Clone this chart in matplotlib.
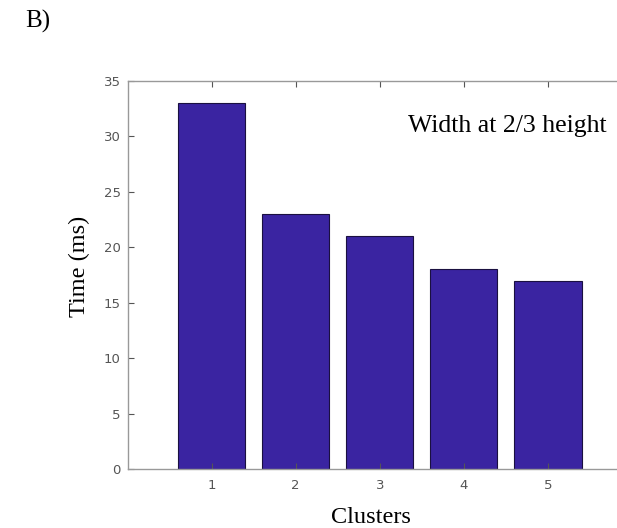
import numpy as np
import matplotlib.pyplot as plt

clusters = [1, 2, 3, 4, 5]
times = [33, 23, 21, 18, 17]
yticks = [0, 5, 10, 15, 20, 25, 30, 35]

W, H = 617, 528
fig = plt.figure(figsize=(W / 100, H / 100), dpi=100)
# axes run past the right edge of the image (the original is cropped there)
ax = fig.add_axes([127.5 / W, (H - 469) / H, 504.5 / W, 388 / H])

ax.bar(clusters, times, width=0.8, color='#3a24a1', edgecolor='#1a1040', linewidth=0.8)

ax.set_xlim(0, 6)
ax.set_ylim(0, 35)
ax.set_xticks(clusters)
ax.set_yticks(yticks)

for s in ax.spines.values():
    s.set_color('#999999')
    s.set_linewidth(1.0)
ax.spines['right'].set_visible(False)
ax.tick_params(direction='in', length=4, color='#555555', labelcolor='#555555',
               labelsize=9.5, top=True)
ax.tick_params(axis='y', pad=5)
ax.tick_params(axis='x', pad=7)

serif = 'Liberation Serif'
fig.text(371 / W, 1 - 523 / H, 'Clusters', family=serif, fontsize=17.5,
         ha='center', va='baseline')
fig.text(79 / W, 1 - 266 / H, 'Time (ms)', family=serif, fontsize=17.5,
         rotation=90, ha='center', va='center')
fig.text(408 / W, 1 - 132 / H, 'Width at 2/3 height', family=serif, fontsize=18.5,
         ha='left', va='baseline')
fig.text(25 / W, 1 - 28 / H, 'B)', family=serif, fontsize=18,
         ha='left', va='baseline')

fig.savefig('out.png', dpi=100)
